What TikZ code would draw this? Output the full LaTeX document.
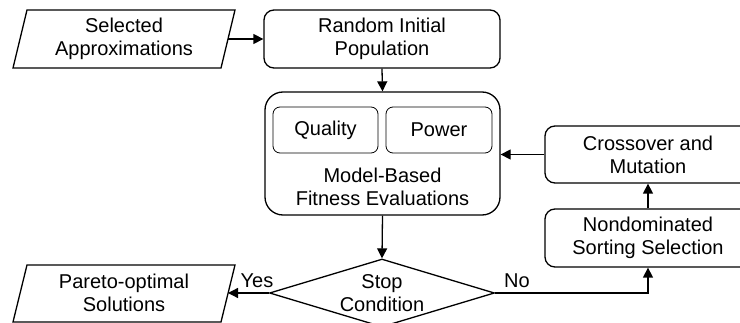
\documentclass[tikz,border=0pt]{standalone}
\usepackage{fontspec}
\setmainfont{Liberation Sans}
\usetikzlibrary{shapes.geometric,arrows.meta}
\begin{document}
\begin{tikzpicture}[x=1pt,y=-1pt,
  every node/.style={font=\fontsize{20}{23}\selectfont, align=center, inner sep=0pt},
  rbox/.style={draw, line width=1.3pt, rounded corners=10pt},
  para/.style={draw, line width=1.3pt, line join=miter},
  arr/.style={line width=1.3pt, -{Triangle[length=10pt,width=10pt]}},
  ln/.style={line width=1.3pt}]
\useasboundingbox (0,0) rectangle (740,323);
% parallelograms
\draw[para] (13,68) -- (27,10) -- (235,10) -- (221,68) -- cycle;
\node (sel) at (124,39) {Selected\\Approximations};
\coordinate (selR) at (228,39);
\draw[para] (13,322) -- (27,265) -- (235,265) -- (221,322) -- cycle;
\node (par) at (124,293) {Pareto-optimal\\Solutions};
\coordinate (parR) at (228,293);
% boxes
\node[rbox, minimum width=236pt, minimum height=58pt] (rand) at (382,39) {Random Initial\\Population};
\node[rbox, rounded corners=18pt, minimum width=235pt, minimum height=123pt] (fit) at (382.5,153.5) {};
\node[rbox, line width=0.8pt, rounded corners=7pt, minimum width=105pt, minimum height=46pt] (qual) at (325.5,130) {Quality};
\node[rbox, line width=0.8pt, rounded corners=7pt, minimum width=106pt, minimum height=46pt] (pow) at (439,130) {Power};
\node (fitt) at (382.5,187) {Model-Based\\Fitness Evaluations};
\node[draw, diamond, line width=1.3pt, aspect=3.3, minimum width=225pt, minimum height=68pt, inner sep=0pt] (stop) at (382,293) {};
\node at (382,293) {Stop\\Condition};
\node[rbox, minimum width=206pt, minimum height=57pt] (cross) at (648,154.5) {Crossover and\\Mutation};
\node[rbox, minimum width=206pt, minimum height=58pt] (nond) at (648,238) {Nondominated\\Sorting Selection};
% connectors
\draw[arr] (selR) -- (rand.west);
\draw[arr] (rand.south) -- (fit.north);
\draw[arr] (fit.south) -- (stop.north);
\draw[arr] (stop.west) -- (parR);
\draw[arr] (stop.east) -| (nond.south);
\draw[arr] (nond.north) -- (cross.south);
\draw[arr] (cross.west) -- (fit.east |- cross.west);
\node at (257,281) {Yes};
\node at (517,281) {No};
\end{tikzpicture}
\end{document}
